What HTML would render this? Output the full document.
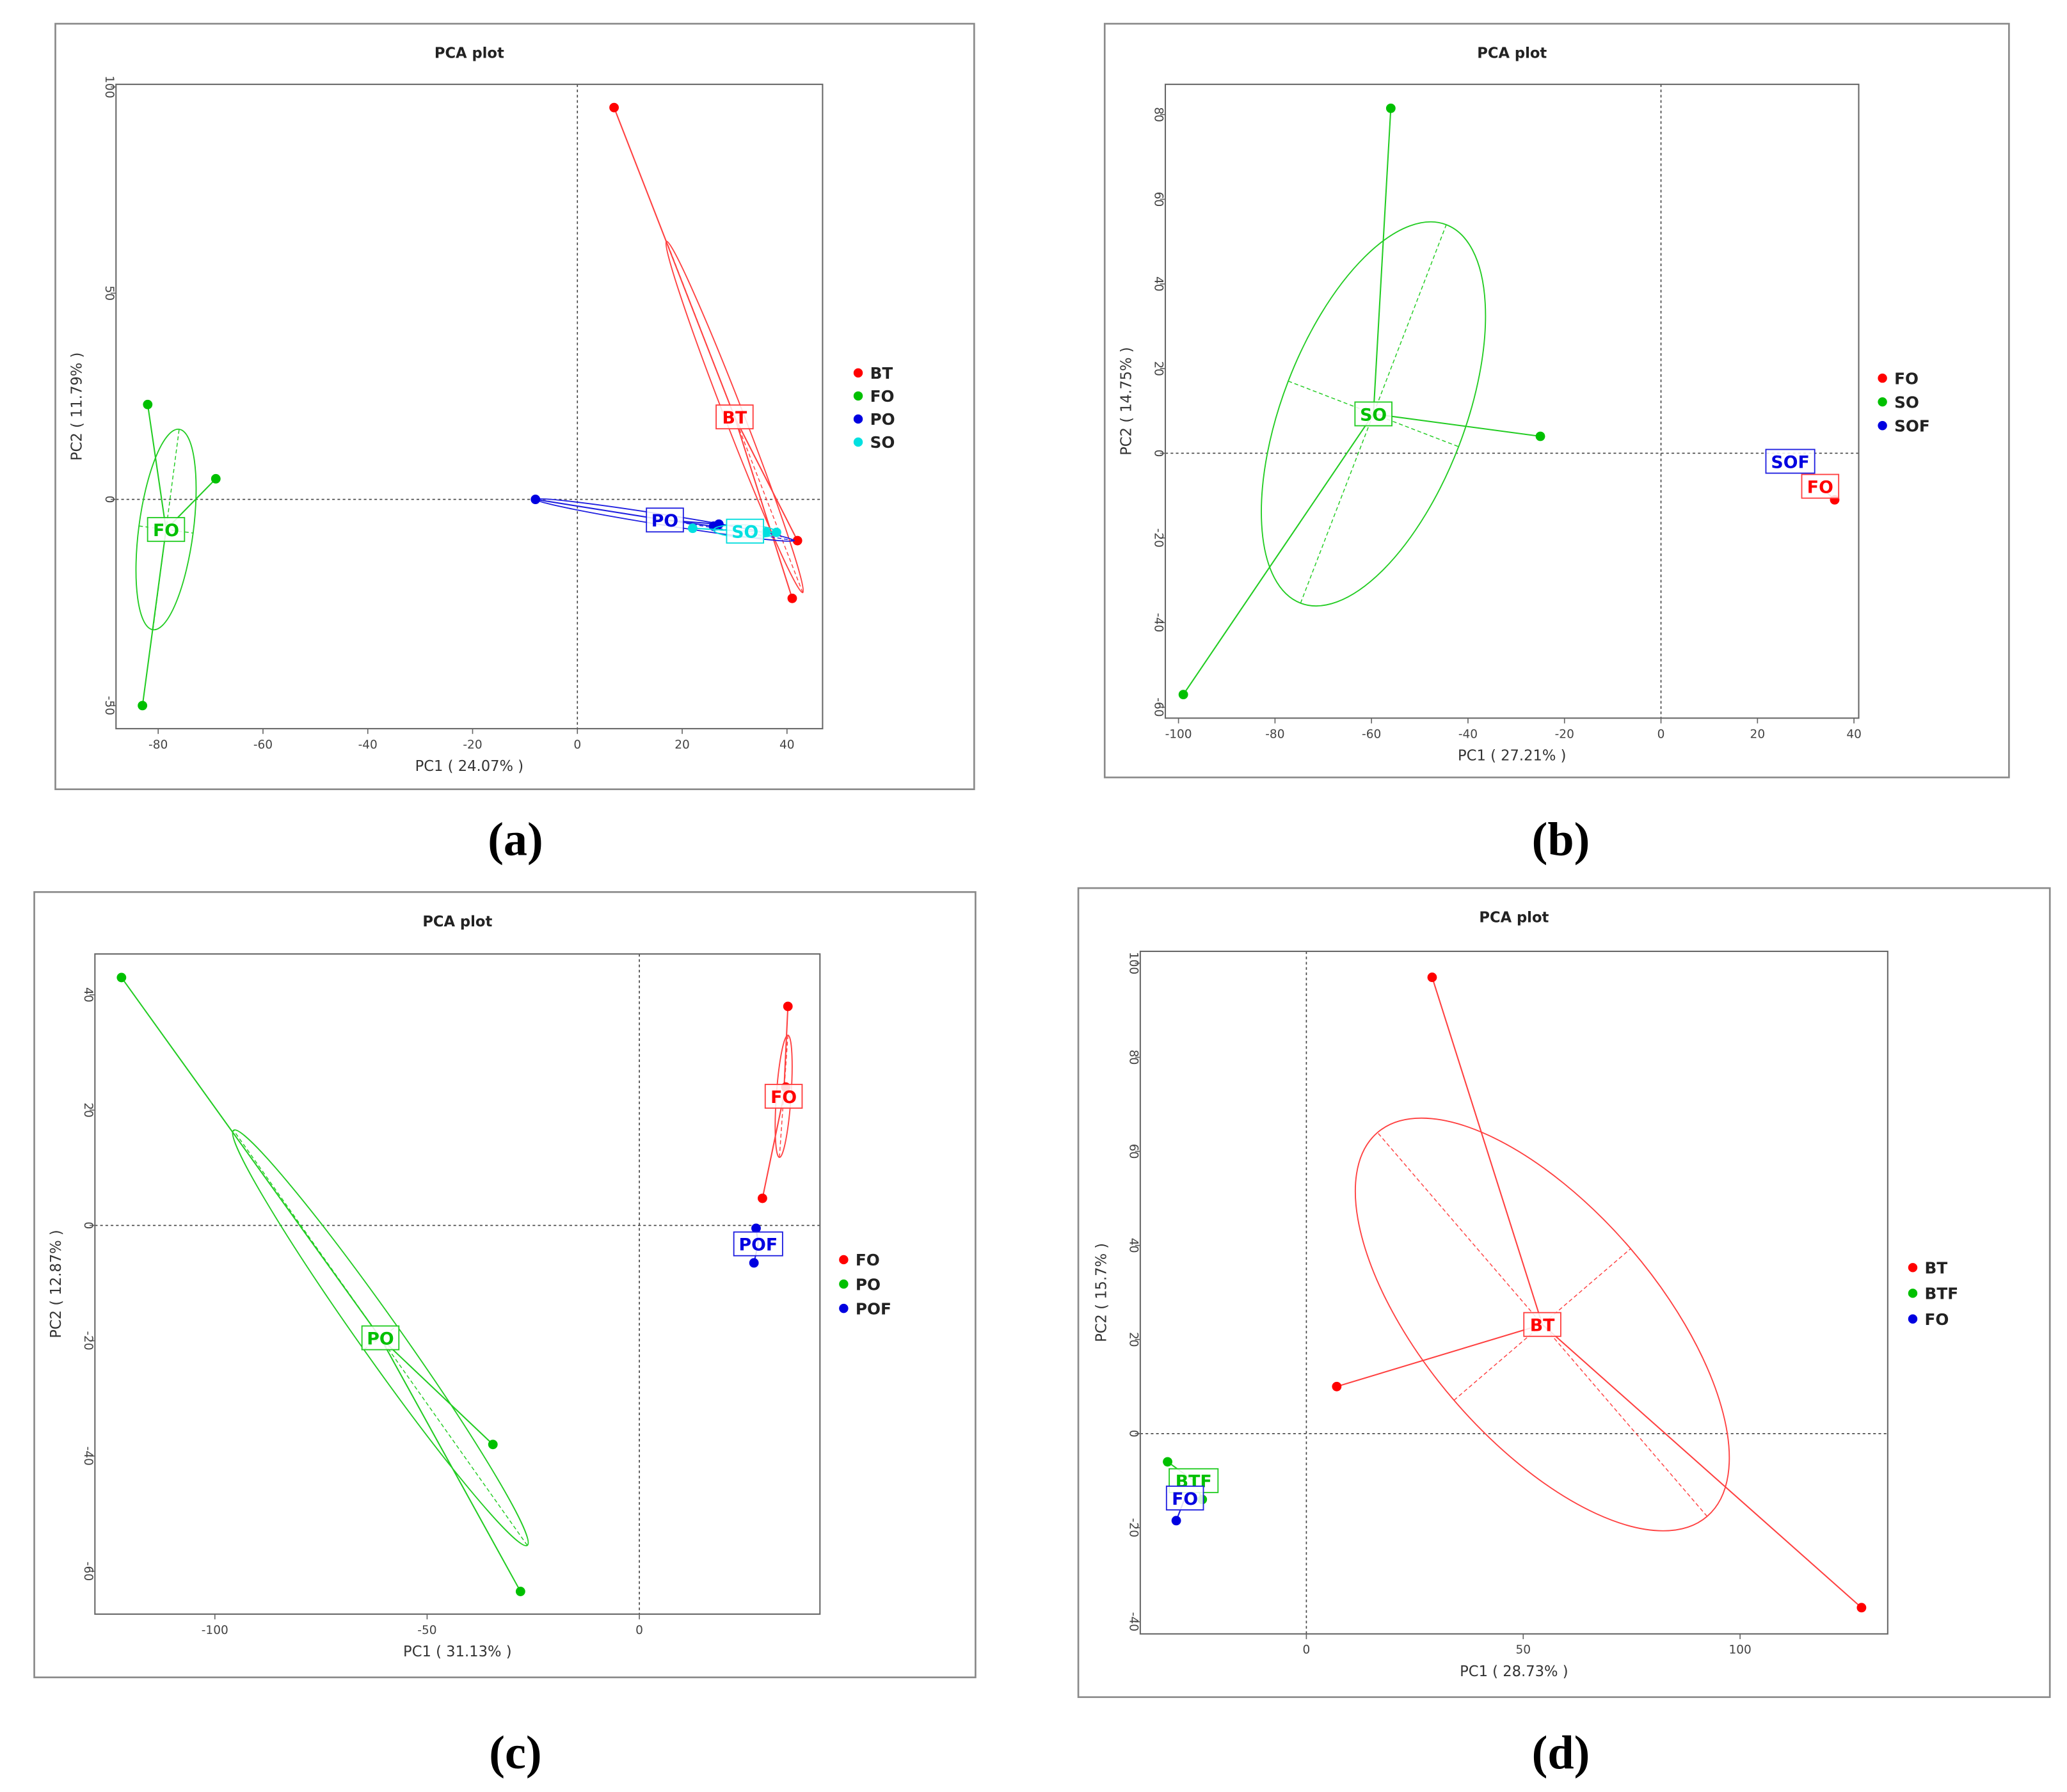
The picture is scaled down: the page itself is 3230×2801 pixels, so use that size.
<!DOCTYPE html>
<html><head><meta charset="utf-8"><style>
html,body{margin:0;padding:0;background:#fff}
svg{display:block}
text{font-family:"DejaVu Sans","Liberation Sans",sans-serif}
</style></head><body>
<svg id="fig" width="3230" height="2801" viewBox="0 0 1568 1360" preserveAspectRatio="none" xmlns="http://www.w3.org/2000/svg"></svg>
<script>
// Panel (a)
const aGroups = ["BT","FO","PO","SO"];
const aColors = ["#ff0000","#00c000","#0000e0","#00e0e0"];
const aX = [[7,42,41],[-82,-69,-83],[-8,27,26],[22,38,36]];
const aY = [[95,-10,-24],[23,5,-50],[0,-6,-6.5],[-7,-8,-8]];
const aCx = [30,-78.5,16.7,32];
const aCy = [20,-7.3,-5,-7.7];
const aEllEnd = [[17,62.6],[-76,17],[-8,0],[38,-8]];
const aEllRatio = [0.05,0.27,0.04,0.2];
const aXTicks = [-80,-60,-40,-20,0,20,40];
const aYTicks = [-50,0,50,100];
// Panel (b)
const bGroups = ["FO","SO","SOF"];
const bColors = ["#ff0000","#00c000","#0000e0"];
const bX = [[36],[-56,-25,-99],[]];
const bY = [[-11],[81.5,4,-57],[]];
const bCx = [33,-59.6,26.8];
const bCy = [-7.8,9.3,-1.9];
const bEllEnd = [null,[-44.5,54],null];
const bEllRatio = [0,0.45,0];
const bXTicks = [-100,-80,-60,-40,-20,0,20,40];
const bYTicks = [-60,-40,-20,0,20,40,60,80];
// Panel (c)
const cGroups = ["FO","PO","POF"];
const cColors = ["#ff0000","#00c000","#0000e0"];
const cX = [[35,29,34.5],[-122,-34.5,-28],[27,27.5]];
const cY = [[38,4.7,24],[43,-38,-63.5],[-6.5,-0.5]];
const cCx = [34,-61,28];
const cCy = [22.4,-19.5,-3.2];
const cEllEnd = [[35,33],[-95.6,16.5],null];
const cEllRatio = [0.12,0.08,0];
const cXTicks = [-100,-50,0];
const cYTicks = [-60,-40,-20,0,20,40];
// Panel (d)
const dGroups = ["BT","BTF","FO"];
const dColors = ["#ff0000","#00c000","#0000e0"];
const dX = [[29,7,128],[-32,-24],[-30]];
const dY = [[97,10,-37],[-6,-14],[-18.5]];
const dCx = [54.4,-26,-28];
const dCy = [23.2,-10,-13.7];
const dEllEnd = [[16.4,64],null,null];
const dEllRatio = [0.46,0,0];
const dXTicks = [0,50,100];
const dYTicks = [-40,-20,0,20,40,60,80,100];

const NS="http://www.w3.org/2000/svg";
const svg=document.getElementById('fig');
function mk(tag,attrs,parent,txt){const e=document.createElementNS(NS,tag);for(const k in attrs)e.setAttribute(k,attrs[k]);if(txt!==undefined)e.textContent=txt;(parent||svg).appendChild(e);return e;}
const light={"#ff0000":"#ff4040","#00c000":"#22cc22","#0000e0":"#2020e0","#00e0e0":"#00dddd"};

function panel(o){
  const g=mk('g',{});
  
  
  const fr=mk('rect',{x:o.frame[0],y:o.frame[1],width:o.frame[2]-o.frame[0],height:o.frame[3]-o.frame[1],fill:'none',stroke:'#8a8a8a','stroke-width':1.3},g);
  
  
  const t=mk('text',{x:(o.plot[0]+o.plot[2])/2,y:o.frame[1]+26,'text-anchor':'middle','font-size':11,'font-weight':'bold',fill:'#222'},g,'PCA plot');
  
  
  const sx=v=>o.x0px+(v-o.xr[0])*(o.x1px-o.x0px)/(o.xr[1]-o.xr[0]);
  const sy=v=>o.y0px+(v-o.yr[0])*(o.y1px-o.y0px)/(o.yr[1]-o.yr[0]);
  const [L,T,R,B]=o.plot;
  const zx=mk('line',{x1:sx(0),x2:sx(0),y1:T,y2:B,stroke:'#444','stroke-width':0.8,'stroke-dasharray':'2,2'},g);
  
  
  const zy=mk('line',{x1:L,x2:R,y1:sy(0),y2:sy(0),stroke:'#444','stroke-width':0.8,'stroke-dasharray':'2,2'},g);
  
  
  const box=mk('rect',{x:L,y:T,width:R-L,height:B-T,fill:'none',stroke:'#666','stroke-width':1},g);
  
  
  o.xt.forEach(v=>{
    mk('line',{x1:sx(v),x2:sx(v),y1:B,y2:B+4,stroke:'#666','stroke-width':0.8},g);
    const tl=mk('text',{x:sx(v),y:B+15,'text-anchor':'middle','font-size':9,fill:'#444'},g,String(v));
    
    
  });
  o.yt.forEach(v=>{
    mk('line',{x1:L-4,x2:L,y1:sy(v),y2:sy(v),stroke:'#666','stroke-width':0.8},g);
    const tl=mk('text',{x:0,y:0,transform:`translate(${L-8},${sy(v)}) rotate(90)`,'text-anchor':'middle','font-size':9,fill:'#444'},g,String(v));
    
    
  });
  const xtl=mk('text',{x:(L+R)/2,y:B+32,'text-anchor':'middle','font-size':11,fill:'#333'},g,o.xlab);
  
  
  const ytl=mk('text',{x:0,y:0,transform:`translate(${L-26},${(T+B)/2}) rotate(-90)`,'text-anchor':'middle','font-size':11,fill:'#333'},g,o.ylab);
  
  
  o.groups.forEach((name,i)=>{
    const col=light[o.colors[i]];
    const cx=sx(o.cx[i]),cy=sy(o.cy[i]);
    if(o.ee[i]){
      const ax=sx(o.ee[i][0]),ay=sy(o.ee[i][1]);
      const a=Math.hypot(ax-cx,ay-cy),b=a*o.er[i];
      const ang=Math.atan2(ay-cy,ax-cx);
      const el=mk('ellipse',{cx:cx,cy:cy,rx:a,ry:b,transform:`rotate(${ang*180/Math.PI},${cx},${cy})`,fill:'none',stroke:col,'stroke-width':0.9},g);
      
      
      const ux=Math.cos(ang),uy=Math.sin(ang);
      mk('line',{x1:cx-ux*a,y1:cy-uy*a,x2:cx+ux*a,y2:cy+uy*a,stroke:col,'stroke-width':0.7,'stroke-dasharray':'3,2'},g);
      mk('line',{x1:cx+uy*b,y1:cy-ux*b,x2:cx-uy*b,y2:cy+ux*b,stroke:col,'stroke-width':0.7,'stroke-dasharray':'3,2'},g);
    }
    o.xs[i].forEach((xv,j)=>{
      const px=sx(xv),py=sy(o.ys[i][j]);
      const ln=mk('line',{x1:cx,y1:cy,x2:px,y2:py,stroke:col,'stroke-width':1},g);
      
      
      const pt=mk('circle',{cx:px,cy:py,r:3.6,fill:o.colors[i]},g);
      
      
    });
  });
  o.groups.forEach((name,i)=>{
    const col=o.colors[i];
    const cx=sx(o.cx[i]),cy=sy(o.cy[i]);
    const w=name.length*9+10;
    const lb=mk('rect',{x:cx-w/2,y:cy-9,width:w,height:18,fill:'#fff','fill-opacity':0.85,stroke:light[col],'stroke-width':0.9},g);
    
    
    const lt=mk('text',{x:cx,y:cy+5,'text-anchor':'middle','font-size':13,'font-weight':'bold',fill:col},g,name);
    
    
  });
  o.groups.forEach((name,i)=>{
    const ly=o.leg[1]+i*o.leg[2];
    const lc=mk('circle',{cx:o.leg[0],cy:ly,r:3.5,fill:o.colors[i]},g);
    
    
    const lt=mk('text',{x:o.leg[0]+9,y:ly+4.5,'font-size':12,'font-weight':'bold',fill:'#222'},g,name);
    
    
  });
  const sl=mk('text',{x:o.sub[0],y:o.sub[1],'text-anchor':'middle',style:'font-family:"Liberation Serif",serif;font-size:36px;font-weight:bold',fill:'#000'},g,'('+o.id+')');
  
  
}

panel({id:'a',frame:[42,18,739,599],plot:[88,64,624,553],xr:[0,40],x0px:438,x1px:597,yr:[0,100],y0px:379,y1px:66,
  xt:aXTicks,yt:aYTicks,xlab:'PC1 ( 24.07% )',ylab:'PC2 ( 11.79% )',groups:aGroups,colors:aColors,xs:aX,ys:aY,cx:aCx,cy:aCy,ee:aEllEnd,er:aEllRatio,leg:[651,283,17.5],sub:[391,649]});
panel({id:'b',frame:[838,18,1524,590],plot:[884,64,1410,545],xr:[-100,0],x0px:894,x1px:1260,yr:[0,80],y0px:344,y1px:87,
  xt:bXTicks,yt:bYTicks,xlab:'PC1 ( 27.21% )',ylab:'PC2 ( 14.75% )',groups:bGroups,colors:bColors,xs:bX,ys:bY,cx:bCx,cy:bCy,ee:bEllEnd,er:bEllRatio,leg:[1428,287,18],sub:[1184,649]});
panel({id:'c',frame:[26,677,740,1273],plot:[72,724,622,1225],xr:[-100,0],x0px:163,x1px:485,yr:[0,40],y0px:930,y1px:755,
  xt:cXTicks,yt:cYTicks,xlab:'PC1 ( 31.13% )',ylab:'PC2 ( 12.87% )',groups:cGroups,colors:cColors,xs:cX,ys:cY,cx:cCx,cy:cCy,ee:cEllEnd,er:cEllRatio,leg:[640,956,18.5],sub:[391,1342]});
panel({id:'d',frame:[818,674,1555,1288],plot:[865,722,1432,1240],xr:[0,100],x0px:991,x1px:1320,yr:[0,100],y0px:1088,y1px:731,
  xt:dXTicks,yt:dYTicks,xlab:'PC1 ( 28.73% )',ylab:'PC2 ( 15.7% )',groups:dGroups,colors:dColors,xs:dX,ys:dY,cx:dCx,cy:dCy,ee:dEllEnd,er:dEllRatio,leg:[1451,962,19.5],sub:[1184,1342]});
</script>
</body></html>
